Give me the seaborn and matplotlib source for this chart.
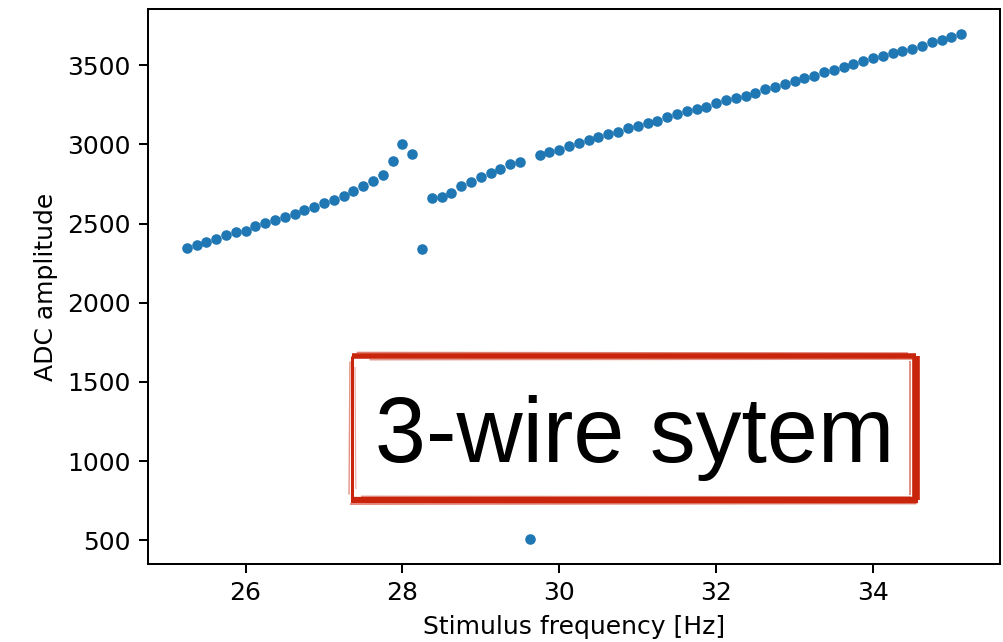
import matplotlib
matplotlib.use("Agg")
import matplotlib.pyplot as plt
import seaborn as sns
import pandas as pd

# stimulus frequencies [Hz]
freq = [25.250, 25.375, 25.500, 25.625, 25.750, 25.875, 26.000, 26.125,
        26.250, 26.375, 26.500, 26.625, 26.750, 26.875, 27.000, 27.125,
        27.250, 27.375, 27.500, 27.625, 27.750, 27.875, 28.000, 28.125,
        28.250, 28.375, 28.500, 28.625, 28.750, 28.875, 29.000, 29.125,
        29.250, 29.375, 29.500, 29.625, 29.750, 29.875, 30.000, 30.125,
        30.250, 30.375, 30.500, 30.625, 30.750, 30.875, 31.000, 31.125,
        31.250, 31.375, 31.500, 31.625, 31.750, 31.875, 32.000, 32.125,
        32.250, 32.375, 32.500, 32.625, 32.750, 32.875, 33.000, 33.125,
        33.250, 33.375, 33.500, 33.625, 33.750, 33.875, 34.000, 34.125,
        34.250, 34.375, 34.500, 34.625, 34.750, 34.875, 35.000, 35.125]

# ADC amplitude
amplitude = [2345, 2362, 2383, 2402, 2425, 2444, 2456, 2482,
             2503, 2524, 2541, 2562, 2585, 2606, 2631, 2650,
             2675, 2705, 2738, 2766, 2808, 2894, 3003, 2938,
             2339, 2664, 2667, 2692, 2740, 2764, 2797, 2822,
             2846, 2875, 2892, 510, 2934, 2953, 2968, 2993,
             3010, 3029, 3050, 3066, 3081, 3102, 3115, 3138,
             3151, 3174, 3193, 3210, 3226, 3239, 3264, 3279,
             3296, 3308, 3325, 3350, 3363, 3384, 3399, 3420,
             3434, 3458, 3468, 3489, 3510, 3527, 3544, 3561,
             3578, 3590, 3605, 3624, 3645, 3662, 3679, 3696]

label_text = "3-wire sytem"

df = pd.DataFrame({"freq": freq, "amplitude": amplitude})

fs = 18
fig = plt.figure(figsize=(10.04, 6.42), dpi=100)
ax = fig.add_axes([0.1474, 0.1215, 0.8486, 0.8645])

sns.scatterplot(data=df, x="freq", y="amplitude", ax=ax, color="#1f77b4",
                s=58, linewidth=0)

ax.set_xlabel("Stimulus frequency [Hz]", fontsize=fs, labelpad=7)
ax.set_ylabel("ADC amplitude", fontsize=fs, labelpad=7)
ax.set_yticks([500, 1000, 1500, 2000, 2500, 3000, 3500])
ax.set_xticks([26, 28, 30, 32, 34])
ax.tick_params(labelsize=fs, length=6.3, width=1.45, pad=6)
for sp in ax.spines.values():
    sp.set_linewidth(1.45)

# stamp-like annotation
red = "#c8250c"
ax.text(0.571, 0.184, label_text, transform=ax.transAxes, ha="center",
        va="baseline", fontsize=66, family=["Liberation Sans", "DejaVu Sans"],
        color="black", zorder=5)

x0, x1 = 0.240, 0.902
y0, y1 = 0.115, 0.375
# (start, end, width, alpha) for each edge, a few strokes to look hand stamped
strokes = [
    # top
    ((x0, y1), (x1, y1), 4.0, 1.0),
    ((x0 + 0.005, y1 + 0.006), (x1 - 0.010, y1 + 0.005), 1.2, 0.6),
    ((x0 + 0.020, y1 - 0.007), (x1 - 0.004, y1 - 0.006), 1.0, 0.5),
    # bottom
    ((x0 - 0.002, y0), (x1 + 0.002, y0), 4.5, 1.0),
    ((x0 - 0.003, y0 - 0.007), (x1, y0 - 0.006), 1.2, 0.6),
    ((x0 + 0.010, y0 + 0.007), (x1 - 0.006, y0 + 0.006), 1.0, 0.5),
    # left
    ((x0, y0), (x0, y1), 2.2, 1.0),
    ((x0 - 0.004, y0 + 0.01), (x0 - 0.003, y1 - 0.01), 1.0, 0.5),
    ((x0 + 0.004, y0 + 0.02), (x0 + 0.003, y1 - 0.02), 0.8, 0.4),
    # right
    ((x1, y0), (x1, y1), 5.5, 1.0),
    ((x1 - 0.008, y0 + 0.01), (x1 - 0.008, y1 - 0.01), 1.2, 0.6),
]
for (xa, ya), (xb, yb), lw, a in strokes:
    ax.plot([xa, xb], [ya, yb], transform=ax.transAxes, color=red,
            linewidth=lw, alpha=a, solid_capstyle="butt", zorder=4)

fig.savefig("out.png", dpi=100)
